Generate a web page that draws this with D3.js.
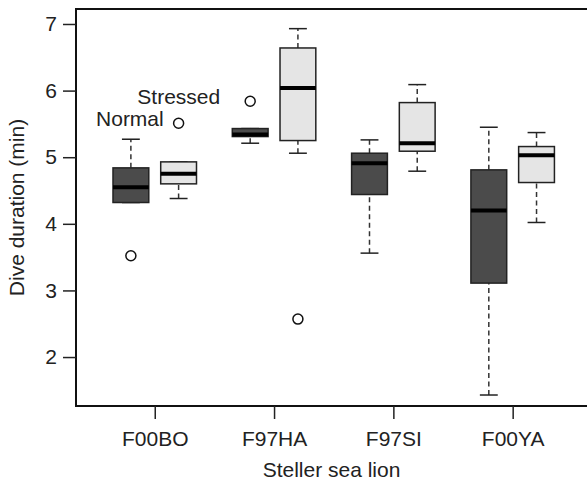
<!DOCTYPE html>
<html>
<head>
<meta charset="utf-8">
<script src="https://cdn.jsdelivr.net/npm/d3@7"></script>
<style>
  body { margin: 0; background: #fff; }
  text { font-family: "Liberation Sans", Arial, sans-serif; fill: #222; }
</style>
</head>
<body>
<script>
// sea lions on the x axis
var lions = ["F00BO", "F97HA", "F97SI", "F00YA"];
// box stats: [lower whisker, q1, median, q3, upper whisker]
var normalStats = [
    [4.32, 4.32, 4.55, 4.84, 5.27],
    [5.21, 5.31, 5.34, 5.43, 5.43],
    [3.56, 4.44, 4.91, 5.06, 5.26],
    [1.43, 3.11, 4.20, 4.81, 5.45]
];
var stressedStats = [
    [4.38, 4.60, 4.75, 4.93, 4.93],
    [5.06, 5.25, 6.04, 6.64, 6.93],
    [4.79, 5.09, 5.21, 5.82, 6.09],
    [4.02, 4.62, 5.03, 5.16, 5.37]
];
var normalOutliers = [[3.52], [5.84], [], []];
var stressedOutliers = [[5.51], [2.57], [], []];
var yTicks = [2, 3, 4, 5, 6, 7];

var width = 587, height = 481;
var plotLeft = 76, plotTop = 9, plotRight = 587, plotBottom = 406;
var fontSize = "21px";

var svg = d3.select("body").append("svg")
    .attr("width", width)
    .attr("height", height);

var x = d3.scaleLinear().domain([0.34, 4.623]).range([plotLeft, plotRight]);
var y = d3.scaleLinear().domain([1.265, 7.225]).range([plotBottom, plotTop]);

// Draw one set of boxes
function drawBoxes(stats, outliers, offset, fill) {
    var g = svg.append("g");
    stats.forEach(function(s, i) {
        var pos = i + 1 + offset;
        // whiskers
        g.append("line")
            .attr("x1", x(pos)).attr("x2", x(pos))
            .attr("y1", y(s[0])).attr("y2", y(s[1]))
            .attr("stroke", "#333").attr("stroke-width", 1.5)
            .attr("stroke-dasharray", "5,3.5");
        g.append("line")
            .attr("x1", x(pos)).attr("x2", x(pos))
            .attr("y1", y(s[3])).attr("y2", y(s[4]))
            .attr("stroke", "#333").attr("stroke-width", 1.5)
            .attr("stroke-dasharray", "5,3.5");
        // caps
        [s[0], s[4]].forEach(function(v) {
            g.append("line")
                .attr("x1", x(pos - 0.075)).attr("x2", x(pos + 0.075))
                .attr("y1", y(v)).attr("y2", y(v))
                .attr("stroke", "#222").attr("stroke-width", 1.5);
        });
        // box
        g.append("rect")
            .attr("x", x(pos - 0.15))
            .attr("y", y(s[3]))
            .attr("width", x(pos + 0.15) - x(pos - 0.15))
            .attr("height", y(s[1]) - y(s[3]))
            .attr("fill", fill)
            .attr("stroke", "#222").attr("stroke-width", 1.5);
        // median
        g.append("line")
            .attr("x1", x(pos - 0.15)).attr("x2", x(pos + 0.15))
            .attr("y1", y(s[2])).attr("y2", y(s[2]))
            .attr("stroke", "#000").attr("stroke-width", 4);
        // outliers
        outliers[i].forEach(function(v) {
            g.append("circle")
                .attr("cx", x(pos)).attr("cy", y(v)).attr("r", 5)
                .attr("fill", "#fff")
                .attr("stroke", "#111").attr("stroke-width", 1.5);
        });
    });
}

drawBoxes(normalStats, normalOutliers, -0.2, "#4b4b4b");
drawBoxes(stressedStats, stressedOutliers, 0.2, "#e5e5e5");

// frame (right side falls outside the picture)
svg.append("path")
    .attr("d", "M" + plotRight + "," + plotTop + "H" + plotLeft + "V" + plotBottom + "H" + plotRight)
    .attr("fill", "none").attr("stroke", "#111").attr("stroke-width", 2);

// y axis
var yAxis = svg.append("g")
    .attr("transform", "translate(" + plotLeft + ",0)")
    .call(d3.axisLeft(y).tickValues(yTicks).tickSize(13).tickPadding(6).tickFormat(d3.format("d")));
yAxis.select(".domain").remove();
yAxis.selectAll("line").attr("stroke", "#222").attr("stroke-width", 1.5);
yAxis.selectAll("text").style("font-size", fontSize).attr("fill", "#222")
    .style("font-family", "'Liberation Sans', Arial, sans-serif");

// x axis
var xAxis = svg.append("g")
    .attr("transform", "translate(0," + plotBottom + ")")
    .call(d3.axisBottom(x).tickValues([1, 2, 3, 4]).tickSize(13)
        .tickFormat(function(d) { return lions[d - 1]; }));
xAxis.select(".domain").remove();
xAxis.selectAll("line").attr("stroke", "#222").attr("stroke-width", 1.5);
xAxis.selectAll("text").style("font-size", fontSize).attr("fill", "#222")
    .style("font-family", "'Liberation Sans', Arial, sans-serif")
    .attr("y", 40).attr("dy", 0);

// axis titles
svg.append("text")
    .attr("x", (plotLeft + plotRight) / 2).attr("y", 477)
    .attr("text-anchor", "middle")
    .style("font-size", fontSize)
    .text("Steller sea lion");

svg.append("text")
    .attr("transform", "translate(23.5," + (plotTop + plotBottom) / 2 + ") rotate(-90)")
    .attr("text-anchor", "middle")
    .style("font-size", fontSize)
    .text("Dive duration (min)");

// group labels
svg.append("text")
    .attr("x", x(0.508)).attr("y", y(5.468))
    .style("font-size", fontSize)
    .text("Normal");
svg.append("text")
    .attr("x", x(0.854)).attr("y", y(5.80))
    .style("font-size", fontSize)
    .text("Stressed");
</script>
</body>
</html>
